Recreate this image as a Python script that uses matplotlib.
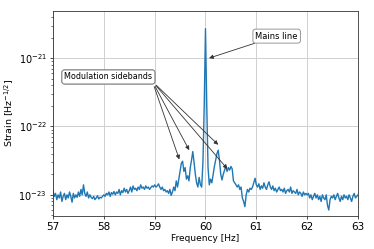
import numpy as np
import matplotlib
matplotlib.use("Agg")
import matplotlib.pyplot as plt
from matplotlib.ticker import NullFormatter

# Frequency grid (Hz) and ASD values (units of 1e-23 strain/sqrt(Hz))
f_start, f_stop = 57.0, 63.0
strain_e23 = [
    1.15, 0.95, 1.05, 0.85, 1.0, 0.9, 1.1, 0.8, 0.95, 1.05,
    0.85, 1.0, 0.9, 1.1, 0.95, 0.78, 1.05, 0.9, 1.0, 0.92,
    1.1, 0.95, 1.2, 1.0, 1.4, 1.05, 0.95, 1.1, 0.9, 1.0,
    0.92, 0.88, 0.95, 0.85, 0.9, 0.97, 0.87, 0.92, 0.9, 0.95,
    1.0, 0.95, 1.05, 1.0, 1.1, 0.95, 1.08, 1.02, 1.12, 1.0,
    1.1, 1.05, 1.2, 1.0, 1.15, 1.08, 1.25, 1.1, 1.2, 1.05,
    1.15, 1.3, 1.1, 1.35, 1.2, 1.25, 1.15, 1.3, 1.2, 1.4,
    1.25, 1.3, 1.2, 1.35, 1.25, 1.3, 1.2, 1.28, 1.35, 1.3,
    1.4, 1.3, 1.35, 1.45, 1.3, 1.2, 1.3, 1.15, 1.2, 1.1,
    1.15, 1.05, 1.2, 0.98, 1.1, 1.3, 1.15, 1.6, 1.3, 1.7,
    2.2, 2.9, 3.1, 2.2, 2.5, 1.7, 1.9, 1.6, 2.5, 3.2,
    4.3, 3.0, 2.0, 1.5, 1.3, 1.8, 1.4, 1.3, 3.0, 20.0,
    270.0, 20.0, 2.5, 1.4, 1.7, 1.5, 2.0, 2.6, 3.2, 4.0,
    4.5, 3.2, 2.0, 1.65, 2.0, 2.3, 2.6, 2.2, 2.5, 2.3,
    2.6, 2.4, 1.6, 1.5, 1.4, 1.3, 1.4, 1.2, 1.3, 0.9,
    0.8, 0.67, 1.0, 1.2, 1.1, 1.25, 1.2, 1.3, 1.5, 1.75,
    1.4, 1.3, 1.45, 1.2, 1.35, 1.25, 1.5, 1.3, 1.2, 1.4,
    1.55, 1.3, 1.2, 1.35, 1.15, 1.25, 1.1, 1.2, 1.3, 1.15,
    1.2, 1.1, 1.25, 1.05, 1.15, 1.2, 1.1, 1.3, 1.05, 1.15,
    1.1, 1.05, 1.2, 1.0, 1.1, 1.05, 0.95, 1.1, 1.0, 1.05,
    1.0, 1.05, 0.9, 1.0, 0.85, 0.95, 1.05, 0.9, 1.0, 0.85,
    0.95, 0.8, 1.0, 0.9, 0.85, 1.0, 0.7, 0.6, 0.85, 0.95,
    0.9, 1.0, 0.85, 0.95, 1.05, 0.9, 0.8, 0.95, 0.85, 1.0,
    0.9, 0.95, 0.85, 1.0, 0.9, 0.8, 0.95, 1.05, 0.9, 0.95,
    1.0,
]
x_ticks = [57, 58, 59, 60, 61, 62, 63]

mains_label = "Mains line"
mains_xy = (60.07, 1e-21)
mains_text_xy = (61.4, 2.1e-21)

side_label = "Modulation sidebands"
side_text_xy = (58.09, 5.3e-22)
side_tips_f = [59.485, 59.68, 60.25, 60.43]
side_tips_v = [3.3e-23, 4.5e-23, 5.4e-23, 2.4e-23]

freq = np.linspace(f_start, f_stop, len(strain_e23))
asd = np.array(strain_e23) * 1e-23

fig = plt.figure(figsize=(3.74, 2.49), dpi=100)
ax = fig.add_axes([0.1417, 0.1325, 0.8155, 0.8235])
ax.plot(freq, asd, color="#1f77b4", lw=1.0)
ax.set_yscale("log")
ax.set_xlim(57, 63)
ax.set_ylim(4.9e-24, 4.9e-21)
ax.set_xticks(x_ticks)
ax.set_xticklabels([str(t) for t in x_ticks])
ax.yaxis.set_minor_formatter(NullFormatter())
ax.grid(True, which="major", color="#d0d0d0", lw=0.7)
ax.set_axisbelow(True)
ax.tick_params(axis="x", labelsize=7.5, length=2.5, width=0.5, pad=2)
ax.tick_params(axis="y", labelsize=7, length=2.5, width=0.5, pad=2)
ax.tick_params(which="minor", length=1.5, width=0.4)
for s in ax.spines.values():
    s.set_color("#333333")
    s.set_linewidth(0.6)
ax.set_xlabel("Frequency [Hz]", fontsize=6.5, labelpad=1)
ax.set_ylabel(r"Strain [Hz$^{-1/2}$]", fontsize=6.8, labelpad=2)

bbox = dict(boxstyle="round,pad=0.3", fc="white", ec="#888888", lw=0.6)
ax.annotate(mains_label, xy=mains_xy, xytext=mains_text_xy,
            ha="center", va="center", fontsize=6, bbox=bbox,
            arrowprops=dict(arrowstyle="-|>", color="#333333", lw=0.6,
                            mutation_scale=6, shrinkA=0, shrinkB=0))
for i, (fx, vy) in enumerate(zip(side_tips_f, side_tips_v)):
    ax.annotate(side_label, xy=(fx, vy), xytext=side_text_xy,
                ha="center", va="center", fontsize=5.8, bbox=bbox,
                arrowprops=dict(arrowstyle="-|>", color="#333333", lw=0.6,
                                mutation_scale=6, shrinkA=2, shrinkB=0,
                                relpos=(1, 0)))

fig.savefig("out.png", dpi=100)
